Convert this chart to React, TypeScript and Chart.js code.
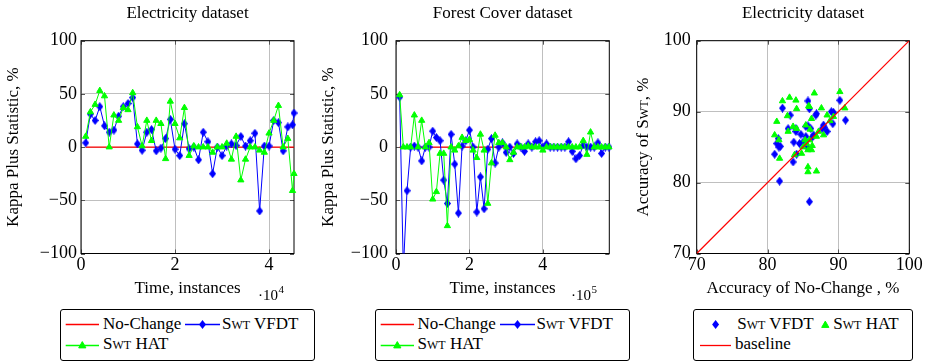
import React, { useEffect, useRef } from "react";
import { Chart, registerables } from "chart.js";

Chart.register(...registerables);

const SERIF = "'Liberation Serif', 'Times New Roman', Times, serif";
const BLUE = "#0000ff";
const GREEN = "#00ff00";
const RED = "#ff0000";
const GRID = "#bfbfbf";

// ---------- Electricity dataset (kappa plus over time) ----------
const ELEC_T = [
  1000, 2000, 3000, 4000, 5000, 6000, 7000, 8000, 9000, 10000,
  11000, 12000, 13000, 14000, 15000, 16000, 17000, 18000, 19000, 20000,
  21000, 22000, 23000, 24000, 25000, 26000, 27000, 28000, 29000, 30000,
  31000, 32000, 33000, 34000, 35000, 36000, 37000, 38000, 39000, 40000,
  41000, 42000, 43000, 44000, 45000, 45312,
];
const ELEC_VFDT = [
  4, 31, 25, 38, 20, 14, 16, 29, 38, 41,
  46.5, 3, -3, 14, 16.5, -3.5, -1, 8, 26, -2,
  -8, 22, -1.5, 0, -12, 14, 5, -25, 0, -8,
  1, 3, 1.5, 10, 1, 6, 13, -60, 1, 1,
  25, 23, -3.5, 19, 21, 32,
];
const ELEC_HAT = [
  10, 33, 40, 53, 48, 0, 30, 25, 37, 35,
  51, 19, 1, 25, 6, 25, 22, -11, 43, 22,
  8.5, 37, -8, 1, 0, 0, 0, -5, 0, 0,
  3.5, -11.5, 10, -31, -11.5, 0, 0, -3, -5, 13,
  25, 39, 0, 8, -41, -25,
];
const ELEC_NC_T = [1000, 45312];
const ELEC_NC = [0, 0];
const ELEC_MAX = 45312;

// ---------- Forest Cover dataset ----------
const FOREST_T = [
  10000, 20000, 30000, 40000, 50000, 60000, 70000, 80000, 90000, 100000,
  110000, 120000, 130000, 140000, 150000, 160000, 170000, 180000, 190000, 200000,
  210000, 220000, 230000, 240000, 250000, 260000, 270000, 280000, 290000, 300000,
  310000, 320000, 330000, 340000, 350000, 360000, 370000, 380000, 390000, 400000,
  410000, 420000, 430000, 440000, 450000, 460000, 470000, 480000, 490000, 500000,
  510000, 520000, 530000, 540000, 550000, 560000, 570000, 580000,
];
const FOREST_VFDT = [
  47, -115, -41, 0, 1, 0, -13, 0, 0, 15,
  9, 6, -31, -53, 12, -16, -62, 1, 6, 16,
  0, -61, -28, -58, -2, 8, -15, 0, 4, -5,
  0, -6, 3, 0, -4, 3, 0, 5, 6, 0,
  3, 0, 0, 0, 0, 0, 5, -4, -11, -8,
  2, 0, 0, 0, 4, -6, 0, 0,
];
const FOREST_HAT = [
  49, 0, 0, 0, 30, 0, 25, 0, 4, -49,
  -42, -6, -6, -74, 0, -3, 1, 9, 6, 7,
  -3, -10, 12, -3, -53, -15, 11, 4, 4, 0,
  -12, -5, 0, 0, 0, 1, 0, 0, 0, -3,
  0, 0, 0, 0, 0, 0, 0, 0, 0, 0,
  6, -7, 14, 0, 0, 0, 0, 0,
];
const FOREST_NC_T = [10000, 580000];
const FOREST_NC = [0, 0];
const FOREST_MAX = 581012;

// ---------- Accuracy scatter (Electricity) ----------
const NC_ACC_VFDT = [
  82.1, 81.0, 81.7, 85.7, 85.9, 90.2, 91.0, 89.2, 89.3, 82.9,
  83.2, 81.5, 81.3, 81.6, 83.7, 83.6, 84.0, 84.7, 84.5, 85.4,
  86.1, 86.9, 86.8, 87.9, 88.4, 87.7, 86.5, 85.6, 85.0, 85.9,
  85.4, 89.0, 84.1, 85.7, 86.3, 88.0, 81.8, 84.0,
];
const SWT_ACC_VFDT = [
  90.5, 84.0, 80.2, 91.5, 90.4, 91.6, 88.8, 88.3, 89.9, 87.6,
  89.5, 86.2, 85.5, 85.0, 85.7, 82.9, 87.2, 86.8, 85.5, 87.9,
  87.6, 89.7, 89.5, 88.1, 87.2, 87.6, 86.7, 85.0, 85.7, 77.3,
  86.5, 90.0, 84.0, 88.0, 86.4, 87.8, 85.1, 87.6,
];
const NC_ACC_HAT = [
  82.1, 83.1, 84.0, 86.6, 90.2, 90.9, 84.1, 85.9, 87.6, 82.8,
  81.3, 81.0, 81.6, 81.7, 82.9, 83.6, 84.1, 85.4, 86.2, 88.4,
  89.3, 87.2, 87.9, 86.9, 85.9, 85.5, 85.0, 84.8, 83.8, 85.7,
  86.2, 85.7, 85.7, 86.9, 86.0, 85.8, 86.3, 85.3, 88.8,
];
const SWT_ACC_HAT = [
  91.5, 92.0, 91.6, 92.6, 92.8, 90.5, 90.4, 90.7, 90.5, 89.4,
  88.6, 86.7, 86.0, 83.4, 87.2, 87.9, 87.6, 88.1, 89.0, 89.5,
  89.3, 87.2, 86.7, 86.5, 86.0, 85.5, 85.0, 84.1, 83.9, 84.6,
  84.6, 82.2, 81.5, 81.6, 87.5, 90.8, 85.2, 86.0, 88.7,
];
const BASELINE_X = [70, 100];
const BASELINE_Y = [70, 100];

// ---------- ticks ----------
const KAPPA_TICKS = [-100, -50, 0, 50, 100];
const ELEC_TIME_TICKS = [0, 20000, 40000];
const FOREST_TIME_TICKS = [0, 200000, 400000];
const ACC_TICKS = [70, 80, 90, 100];

const fmt = (v: number) => (v < 0 ? "\u2212" + Math.abs(v) : String(v));
const toPts = (xs: number[], ys: number[]) => ys.map((y, i) => ({ x: xs[i], y }));

function diamondImage(color: string) {
  const c = document.createElement("canvas");
  const w = 7;
  const h = 9;
  c.width = w;
  c.height = h;
  const g = c.getContext("2d")!;
  g.fillStyle = color;
  g.beginPath();
  g.moveTo(w / 2, 0);
  g.lineTo(w, h / 2);
  g.lineTo(w / 2, h);
  g.lineTo(0, h / 2);
  g.closePath();
  g.fill();
  return c;
}

const decorPlugin = {
  id: "decor",
  beforeDatasetsDraw(chart: any) {
    const { ctx, chartArea: a, scales } = chart;
    ctx.save();
    ctx.strokeStyle = "#555";
    ctx.lineWidth = 1;
    ctx.beginPath();
    for (const t of scales.x.ticks) {
      const p = Math.round(scales.x.getPixelForValue(t.value)) + 0.5;
      ctx.moveTo(p, a.top);
      ctx.lineTo(p, a.top + 4);
      ctx.moveTo(p, a.bottom);
      ctx.lineTo(p, a.bottom - 4);
    }
    for (const t of scales.y.ticks) {
      const p = Math.round(scales.y.getPixelForValue(t.value)) + 0.5;
      ctx.moveTo(a.left, p);
      ctx.lineTo(a.left + 4, p);
      ctx.moveTo(a.right, p);
      ctx.lineTo(a.right - 4, p);
    }
    ctx.stroke();
    ctx.strokeStyle = "#000";
    ctx.lineWidth = 1;
    ctx.strokeRect(a.left, a.top, a.right - a.left, a.bottom - a.top);
    ctx.restore();
  },
  afterDraw(chart: any, _args: any, o: any) {
    const { ctx, chartArea: a } = chart;
    ctx.save();
    ctx.fillStyle = "#000";
    ctx.font = `17px ${SERIF}`;
    ctx.textAlign = "center";
    ctx.textBaseline = "middle";
    if (o.title) ctx.fillText(o.title, (a.left + a.right) / 2, o.titleY);
    if (o.mult) {
      ctx.textAlign = "left";
      ctx.textBaseline = "alphabetic";
      ctx.font = `15px ${SERIF}`;
      const base = "\u00b710";
      ctx.fillText(base, o.mult.x, o.mult.y);
      const w = ctx.measureText(base).width;
      ctx.font = `11px ${SERIF}`;
      ctx.fillText(o.mult.exp, o.mult.x + w + 0.5, o.mult.y - 7);
    }
    if (o.yRich) {
      const parts: { t: string; s: number }[] = o.yRich.parts;
      let total = 0;
      for (const p of parts) {
        ctx.font = `${p.s}px ${SERIF}`;
        total += ctx.measureText(p.t).width;
      }
      ctx.translate(o.yRich.x, (a.top + a.bottom) / 2);
      ctx.rotate(-Math.PI / 2);
      ctx.textAlign = "left";
      ctx.textBaseline = "alphabetic";
      let x = -total / 2;
      for (const p of parts) {
        ctx.font = `${p.s}px ${SERIF}`;
        ctx.fillText(p.t, x, 5.1);
        x += ctx.measureText(p.t).width;
      }
    }
    ctx.restore();
  },
};

const TOP = 40.7;
const CANVAS_H = 305;
const X_AXIS_H = CANVAS_H - 253.5;

function axisCommon(ticks: number[], fit: (s: any) => void, tickPad: number, cb: (v: number) => string) {
  return {
    type: "linear",
    min: ticks[0],
    afterBuildTicks: (s: any) => {
      s.ticks = ticks.map((v) => ({ value: v }));
    },
    afterFit: fit,
    grid: { color: GRID, lineWidth: 1, drawTicks: false },
    border: { display: false },
    ticks: {
      padding: tickPad,
      color: "#000",
      font: { family: SERIF, size: 18 },
      maxRotation: 0,
      autoSkip: false,
      callback: (v: any) => cb(Number(v)),
    },
  };
}

function kappaConfig(p: any) {
  const diamond = diamondImage(BLUE);
  return {
    type: "line",
    data: {
      datasets: [
        {
          label: "Swt HAT",
          data: toPts(p.t, p.hat),
          borderColor: GREEN,
          borderWidth: 1,
          pointStyle: "triangle",
          pointRadius: 3.6,
          pointBackgroundColor: GREEN,
          pointBorderColor: GREEN,
          pointBorderWidth: 1,
          order: 0,
          clip: { left: 10, right: 10, top: 10, bottom: 0 },
        },
        {
          label: "Swt VFDT",
          data: toPts(p.t, p.vfdt),
          borderColor: BLUE,
          borderWidth: 1,
          pointStyle: diamond,
          pointRadius: 4,
          order: 1,
          clip: { left: 10, right: 10, top: 10, bottom: 0 },
        },
        {
          label: "No-Change",
          data: toPts(p.ncT, p.nc),
          borderColor: RED,
          borderWidth: 1.3,
          pointRadius: 0,
          order: 2,
        },
      ],
    },
    options: {
      responsive: false,
      animation: false,
      events: [],
      layout: { padding: { top: TOP, right: p.padRight, bottom: 0, left: 0 } },
      plugins: {
        legend: { display: false },
        tooltip: { enabled: false },
        decor: { title: p.title, titleY: 14, mult: p.mult },
      },
      scales: {
        x: {
          ...axisCommon(p.xTicks, (s: any) => (s.height = X_AXIS_H), 1, (v) => fmt(v / p.xDiv)),
          max: p.xMax,
          title: {
            display: true,
            text: "Time, instances",
            color: "#000",
            font: { family: SERIF, size: 17 },
            padding: { top: 0, bottom: 6.6 },
          },
        },
        y: {
          ...axisCommon(KAPPA_TICKS, (s: any) => (s.width = p.yWidth), p.yTickPad, fmt),
          max: 100,
          title: {
            display: true,
            text: "Kappa Plus Statistic, %",
            color: "#000",
            font: { family: SERIF, size: 17 },
            padding: { top: p.yTitlePad, bottom: 0 },
          },
        },
      },
    },
    plugins: [decorPlugin],
  };
}

function scatterConfig() {
  const diamond = diamondImage(BLUE);
  return {
    type: "scatter",
    data: {
      datasets: [
        {
          label: "baseline",
          data: toPts(BASELINE_X, BASELINE_Y),
          showLine: true,
          borderColor: RED,
          backgroundColor: RED,
          borderWidth: 1.2,
          pointRadius: 0,
          order: 0,
        },
        {
          label: "Swt HAT",
          data: toPts(NC_ACC_HAT, SWT_ACC_HAT),
          pointStyle: "triangle",
          pointRadius: 3.6,
          pointBackgroundColor: GREEN,
          pointBorderColor: GREEN,
          pointBorderWidth: 1,
          order: 1,
        },
        {
          label: "Swt VFDT",
          data: toPts(NC_ACC_VFDT, SWT_ACC_VFDT),
          pointStyle: diamond,
          pointRadius: 4,
          order: 2,
        },
      ],
    },
    options: {
      responsive: false,
      animation: false,
      events: [],
      layout: { padding: { top: TOP, right: 929 - 909.3, bottom: 0, left: 0 } },
      plugins: {
        legend: { display: false },
        tooltip: { enabled: false },
        decor: {
          title: "Electricity dataset",
          titleY: 14,
          yRich: {
            x: 23.2,
            parts: [
              { t: "Accuracy of S", s: 17 },
              { t: "WT", s: 12.2 },
              { t: ", %", s: 17 },
            ],
          },
        },
      },
      scales: {
        x: {
          ...axisCommon(ACC_TICKS, (s: any) => (s.height = X_AXIS_H), 1, fmt),
          max: 100,
          title: {
            display: true,
            text: "Accuracy of No-Change , %",
            color: "#000",
            font: { family: SERIF, size: 17 },
            padding: { top: 0, bottom: 6.6 },
          },
        },
        y: {
          ...axisCommon(ACC_TICKS, (s: any) => (s.width = 696.7 - 620), 6, fmt),
          max: 100,
          title: { display: false },
        },
      },
    },
    plugins: [decorPlugin],
  };
}

function ChartBox({ left, width, build }: { left: number; width: number; build: () => any }) {
  const ref = useRef<HTMLCanvasElement>(null);
  useEffect(() => {
    const chart = new Chart(ref.current as HTMLCanvasElement, build());
    return () => chart.destroy();
  }, []);
  return (
    <canvas
      ref={ref}
      width={width}
      height={CANVAS_H}
      style={{ position: "absolute", left, top: 0, width, height: CANVAS_H }}
    />
  );
}

const textStyle: React.CSSProperties = {
  position: "absolute",
  fontFamily: SERIF,
  fontSize: 17,
  lineHeight: "20px",
  whiteSpace: "nowrap",
  color: "#000",
};

function Txt({ x, baseline, children }: { x: number; baseline: number; children: React.ReactNode }) {
  return <span style={{ ...textStyle, left: x, top: baseline - 15.75 }}>{children}</span>;
}

const Swt = () => <span style={{ fontVariant: "small-caps" }}>Swt</span>;

function Diamond({ cx, cy }: { cx: number; cy: number }) {
  return <polygon points={`${cx},${cy - 4.5} ${cx + 3.5},${cy} ${cx},${cy + 4.5} ${cx - 3.5},${cy}`} fill={BLUE} />;
}
function Tri({ cx, cy }: { cx: number; cy: number }) {
  return (
    <polygon
      points={`${cx},${cy - 3.9} ${cx + 3.6},${cy + 2.4} ${cx - 3.6},${cy + 2.4}`}
      fill={GREEN}
      stroke={GREEN}
      strokeWidth={1}
    />
  );
}

function LineLegend({ left }: { left: number }) {
  return (
    <div
      style={{
        position: "absolute",
        left,
        top: 309,
        width: 255,
        height: 52,
        border: "1px solid #000",
        borderRadius: 3,
        boxSizing: "border-box",
      }}
    >
      <svg width={255} height={52} style={{ position: "absolute", left: -1, top: -1 }}>
        <line x1={5.7} y1={15.5} x2={39} y2={15.5} stroke={RED} strokeWidth={1.3} />
        <line x1={125} y1={15.5} x2={160} y2={15.5} stroke={BLUE} strokeWidth={1.3} />
        <Diamond cx={142.5} cy={15.5} />
        <line x1={5.7} y1={36.5} x2={39} y2={36.5} stroke={GREEN} strokeWidth={1.4} />
        <Tri cx={22.3} cy={36.5} />
      </svg>
      <Txt x={42} baseline={20}>No-Change</Txt>
      <Txt x={161} baseline={20}>
        <Swt /> VFDT
      </Txt>
      <Txt x={42} baseline={40}>
        <Swt /> HAT
      </Txt>
    </div>
  );
}

function ScatterLegend() {
  return (
    <div
      style={{
        position: "absolute",
        left: 692.7,
        top: 309,
        width: 220.6,
        height: 52,
        border: "1px solid #000",
        borderRadius: 3,
        boxSizing: "border-box",
      }}
    >
      <svg width={221} height={52} style={{ position: "absolute", left: -1, top: -1 }}>
        <Diamond cx={22.6} cy={15.5} />
        <Tri cx={132.3} cy={16} />
        <line x1={7} y1={36.5} x2={38} y2={36.5} stroke={RED} strokeWidth={1.3} />
      </svg>
      <Txt x={43.6} baseline={20}>
        <Swt /> VFDT
      </Txt>
      <Txt x={139.6} baseline={20}>
        <Swt /> HAT
      </Txt>
      <Txt x={41.3} baseline={40}>baseline</Txt>
    </div>
  );
}

export default function App() {
  return (
    <div
      style={{
        position: "fixed",
        left: 0,
        top: 0,
        width: 929,
        height: 362,
        background: "#fff",
        overflow: "hidden",
      }}
    >
      <ChartBox
        left={0}
        width={310}
        build={() =>
          kappaConfig({
            title: "Electricity dataset",
            t: ELEC_T,
            vfdt: ELEC_VFDT,
            hat: ELEC_HAT,
            ncT: ELEC_NC_T,
            nc: ELEC_NC,
            xMax: ELEC_MAX,
            xTicks: ELEC_TIME_TICKS,
            xDiv: 10000,
            yWidth: 81,
            yTickPad: 4,
            yTitlePad: 3,
            padRight: 310 - 294,
            mult: { x: 258, y: 300, exp: "4" },
          })
        }
      />
      <ChartBox
        left={310}
        width={310}
        build={() =>
          kappaConfig({
            title: "Forest Cover dataset",
            t: FOREST_T,
            vfdt: FOREST_VFDT,
            hat: FOREST_HAT,
            ncT: FOREST_NC_T,
            nc: FOREST_NC,
            xMax: FOREST_MAX,
            xTicks: FOREST_TIME_TICKS,
            xDiv: 100000,
            yWidth: 86,
            yTickPad: 8,
            yTitlePad: 8,
            padRight: 620 - 609.3,
            mult: { x: 261, y: 300, exp: "5" },
          })
        }
      />
      <ChartBox left={620} width={309} build={scatterConfig} />
      <LineLegend left={60} />
      <LineLegend left={374.5} />
      <ScatterLegend />
    </div>
  );
}
